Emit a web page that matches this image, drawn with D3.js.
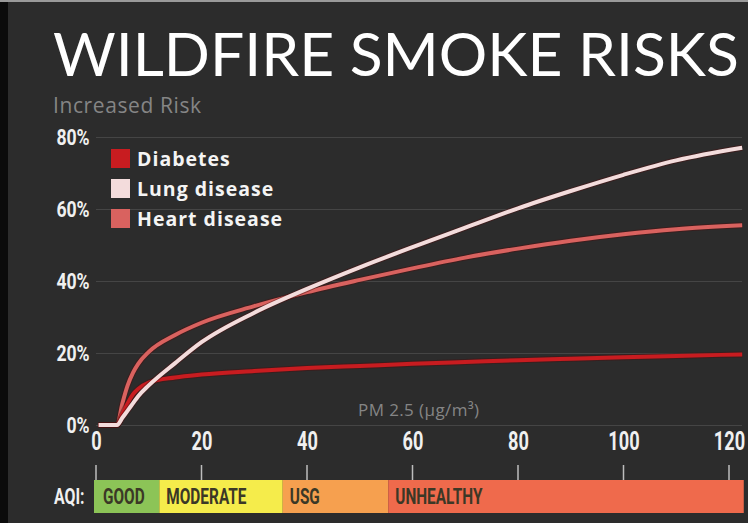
<!DOCTYPE html>
<html>
<head>
<meta charset="utf-8">
<script src="https://d3js.org/d3.v7.min.js"></script>
<style>
  html, body { margin: 0; padding: 0; background: #2b2b2b; }
  svg { display: block; }
</style>
</head>
<body>
<div id="chart"></div>
<script>
  var pm = [0.5, 4, 5, 6, 7, 8, 10, 15, 20, 30, 40, 50, 60, 70, 80, 90, 100, 110, 122.5];

  // increased risk in %, one value per pm entry
  var diabetes = [0, 0, 3, 6, 8.5, 10, 11.8, 13.2, 14, 15, 15.8, 16.4, 17, 17.5, 18, 18.4, 18.8, 19.2, 19.6];
  var lung     = [0, 0, 2, 4, 6, 8, 11, 17.2, 23, 31.2, 37.8, 43.8, 49.4, 54.8, 60.2, 65, 69.5, 73.5, 77];
  var heart    = [0, 0, 6, 11, 14.5, 17, 20.3, 25, 28.4, 33, 36.9, 40.3, 43.5, 46.5, 49, 51.2, 53, 54.4, 55.5];

  var seriesNames = ["Diabetes", "Lung disease", "Heart disease"];
  var seriesColors = ["#c81c20", "#f3dcdc", "#d9625f"];

  var yTicks = [0, 20, 40, 60, 80];
  var xTicks = [0, 20, 40, 60, 80, 100, 120];

  // AQI bands (PM 2.5 breakpoints)
  var aqiNames = ["GOOD", "MODERATE", "USG", "UNHEALTHY"];
  var aqiStart = [0, 12, 35.4, 55.4];
  var aqiEnd   = [12, 35.4, 55.4, 122.8];
  var aqiColors = ["#8cc457", "#f5ec4b", "#f6a04f", "#ef6a4c"];

  var W = 748, H = 523;
  var NARROW = "Roboto, 'Liberation Sans', sans-serif";
  var SANS = "'Open Sans', Lato, sans-serif";

  var svg = d3.select("#chart").append("svg")
    .attr("width", W)
    .attr("height", H);

  // background
  svg.append("rect").attr("width", W).attr("height", H).attr("fill", "#2c2c2c");
  svg.append("rect").attr("width", 8).attr("height", H).attr("fill", "#0b0b0b");
  svg.append("rect").attr("width", W).attr("height", 2).attr("fill", "#9a9a9a");

  // title, sized to span the same width as the original
  var title = svg.append("text")
    .attr("x", 53).attr("y", 76)
    .style("font-family", "Lato, 'Open Sans', sans-serif")
    .style("font-weight", 400)
    .style("font-size", "60px")
    .attr("fill", "#ffffff")
    .text("WILDFIRE SMOKE RISKS");
  var tw = title.node().getComputedTextLength();
  title.style("font-size", Math.min(62, 60 * 686 / tw) + "px");

  svg.append("text")
    .attr("x", 53).attr("y", 113)
    .style("font-family", SANS)
    .style("font-size", "21px")
    .style("letter-spacing", "0.6px")
    .attr("fill", "#858585")
    .text("Increased Risk");

  // scales
  var x = d3.scaleLinear().domain([0, 120]).range([96, 729]);
  var y = d3.scaleLinear().domain([0, 80]).range([425, 137]);

  // y axis + gridlines
  var yAxis = svg.append("g")
    .attr("transform", "translate(96,0)")
    .call(d3.axisLeft(y).tickValues(yTicks)
      .tickSize(-(742 - 96))
      .tickPadding(8)
      .tickFormat(function(d) { return d + "%"; }));
  yAxis.select(".domain").remove();
  yAxis.selectAll(".tick line").attr("stroke", "#ffffff").attr("stroke-opacity", 0.12);
  yAxis.selectAll(".tick text")
    .attr("fill", "#f0f0f0")
    .attr("dy", "0.36em")
    .attr("transform", "scale(0.8,1)")
    .style("font-family", NARROW)
    .style("font-weight", "bold")
    .style("font-size", "22px");

  // x axis labels
  var xAxis = svg.append("g")
    .attr("transform", "translate(0,427)")
    .call(d3.axisBottom(x).tickValues(xTicks).tickSize(0).tickPadding(5));
  xAxis.select(".domain").remove();
  xAxis.selectAll(".tick text")
    .attr("fill", "#f0f0f0")
    .attr("transform", "scale(0.7,1)")
    .style("font-family", NARROW)
    .style("font-weight", "bold")
    .style("font-size", "26px");

  svg.append("text")
    .attr("x", 358).attr("y", 416)
    .style("font-family", SANS)
    .style("font-size", "17px")
    .style("letter-spacing", "0.4px")
    .attr("fill", "#858585")
    .text("PM 2.5 (\u00b5g/m\u00b3)");

  // lines
  var line = d3.line()
    .x(function(d) { return x(d[0]); })
    .y(function(d) { return y(d[1]); })
    .curve(d3.curveMonotoneX);

  var allSeries = [diabetes, lung, heart];
  var drawOrder = [2, 0, 1];
  drawOrder.forEach(function(i) {
    var pts = pm.map(function(p, k) { return [p, allSeries[i][k]]; });
    svg.append("path").datum(pts)
      .attr("fill", "none")
      .attr("stroke", "#4a1010")
      .attr("stroke-opacity", 0.5)
      .attr("stroke-width", 6)
      .attr("d", line);
    svg.append("path").datum(pts)
      .attr("fill", "none")
      .attr("stroke", seriesColors[i])
      .attr("stroke-width", 4)
      .attr("d", line);
  });

  // legend
  var legend = svg.append("g").attr("transform", "translate(111,149)");
  var items = legend.selectAll("g").data(seriesNames).enter().append("g")
    .attr("transform", function(d, i) { return "translate(0," + (i * 30) + ")"; });
  items.append("rect")
    .attr("width", 19).attr("height", 19)
    .attr("fill", function(d, i) { return seriesColors[i]; });
  items.append("text")
    .attr("x", 26).attr("y", 17)
    .style("font-family", SANS)
    .style("font-weight", "bold")
    .style("font-size", "19.5px")
    .style("letter-spacing", "1px")
    .attr("fill", "#f4f4f4")
    .text(function(d) { return d; });

  // AQI strip
  svg.append("g").selectAll("line").data(xTicks).enter().append("line")
    .attr("x1", function(d) { return x(d); })
    .attr("x2", function(d) { return x(d); })
    .attr("y1", 465).attr("y2", 480)
    .attr("stroke", "#bdbdbd")
    .attr("stroke-width", 1.5);

  var bands = svg.append("g");
  bands.selectAll("rect").data(aqiNames).enter().append("rect")
    .attr("x", function(d, i) { return x(aqiStart[i]) - (i == 0 ? 2 : 0); })
    .attr("width", function(d, i) { return x(aqiEnd[i]) - x(aqiStart[i]) + (i == 0 ? 2 : 0); })
    .attr("y", 480).attr("height", 33)
    .attr("fill", function(d, i) { return aqiColors[i]; });
  bands.selectAll("text").data(aqiNames).enter().append("text")
    .attr("transform", function(d, i) { return "translate(" + (x(aqiStart[i]) + 7) + ",504) scale(0.7,1)"; })
    .style("font-family", NARROW)
    .style("font-weight", "bold")
    .style("font-size", "22px")
    .attr("fill", "#3b3826")
    .text(function(d) { return d; });

  svg.append("text")
    .attr("transform", "translate(54,504) scale(0.72,1)")
    .style("font-family", NARROW)
    .style("font-weight", "bold")
    .style("font-size", "22px")
    .attr("fill", "#f0f0f0")
    .text("AQI:");
</script>
</body>
</html>
